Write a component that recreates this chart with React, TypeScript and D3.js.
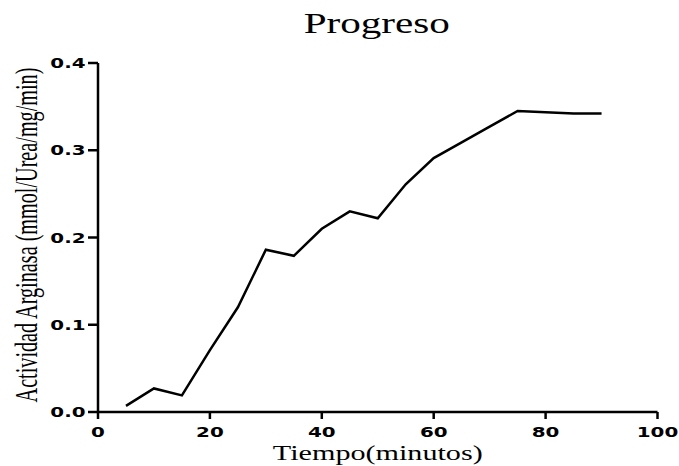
import React from "react";
import * as d3 from "d3";

const minutes = [5, 10, 15, 20, 25, 30, 35, 40, 45, 50, 55, 60, 65, 70, 75, 80, 85, 90];
const activity = [0.007, 0.027, 0.019, 0.071, 0.12, 0.186, 0.179, 0.21, 0.23, 0.222, 0.261, 0.291, 0.309, 0.327, 0.345, 0.3435, 0.342, 0.342];
const xTicks = [0, 20, 40, 60, 80, 100];
const yTicks = [0, 0.1, 0.2, 0.3, 0.4];
const title = "Progreso";
const xLabel = "Tiempo(minutos)";
const yLabel = "Actividad Arginasa (mmol/Urea/mg/min)";

const W = 679;
const H = 466;
const SX = 1.37;

export default function App() {
  const x = d3.scaleLinear().domain([0, 100]).range([98, 657.5]);
  const y = d3.scaleLinear().domain([0, 0.4]).range([412, 63]);
  const pts: [number, number][] = minutes.map((m, i) => [m, activity[i]]);
  const line = d3
    .line<[number, number]>()
    .x((d) => x(d[0]))
    .y((d) => y(d[1]));
  const fmt = d3.format(".1f");
  const serif = "'Liberation Serif', 'Times New Roman', serif";
  const tickFont = "'DejaVu Sans', sans-serif";
  const cx = (x(0) + x(100)) / 2;

  return (
    <svg
      width={W}
      height={H}
      style={{ position: "absolute", left: 0, top: 0, background: "#fff" }}
    >
      <rect x={0} y={0} width={W} height={H} fill="#fff" />
      <text
        transform={`translate(${cx - 1},33) scale(${SX},1)`}
        textAnchor="middle"
        fontFamily={serif}
        fontSize={30}
        fill="#000"
      >
        {title}
      </text>
      {/* axes */}
      <line x1={x(0)} x2={x(0)} y1={y(0.4)} y2={y(0)} stroke="#000" strokeWidth={2.5} />
      <line x1={x(0)} x2={x(100)} y1={y(0)} y2={y(0)} stroke="#000" strokeWidth={2.5} />
      {xTicks.map((t) => (
        <g key={"x" + t}>
          <line x1={x(t)} x2={x(t)} y1={y(0)} y2={y(0) + 7} stroke="#000" strokeWidth={2.5} />
          <text
            transform={`translate(${x(t)},437) scale(${SX},1)`}
            textAnchor="middle"
            fontFamily={tickFont}
            fontWeight="bold"
            fontSize={14.5}
            fill="#000"
          >
            {t}
          </text>
        </g>
      ))}
      {yTicks.map((t) => (
        <g key={"y" + t}>
          <line x1={x(0) - 10} x2={x(0)} y1={y(t)} y2={y(t)} stroke="#000" strokeWidth={2.5} />
          <text
            transform={`translate(85.5,${y(t)}) scale(${SX},1)`}
            textAnchor="end"
            dy="0.36em"
            fontFamily={tickFont}
            fontWeight="bold"
            fontSize={14.5}
            fill="#000"
          >
            {fmt(t)}
          </text>
        </g>
      ))}
      <path d={line(pts) || ""} fill="none" stroke="#000" strokeWidth={2.5} strokeLinejoin="miter" />
      <text
        transform={`translate(${cx},460) scale(${SX},1)`}
        textAnchor="middle"
        fontFamily={serif}
        fontSize={22}
        fill="#000"
      >
        {xLabel}
      </text>
      <text
        transform={`translate(37,235) scale(${SX + 0.15},1) rotate(-90)`}
        textAnchor="middle"
        fontFamily={serif}
        fontSize={20.2}
        fill="#000"
      >
        {yLabel}
      </text>
    </svg>
  );
}
